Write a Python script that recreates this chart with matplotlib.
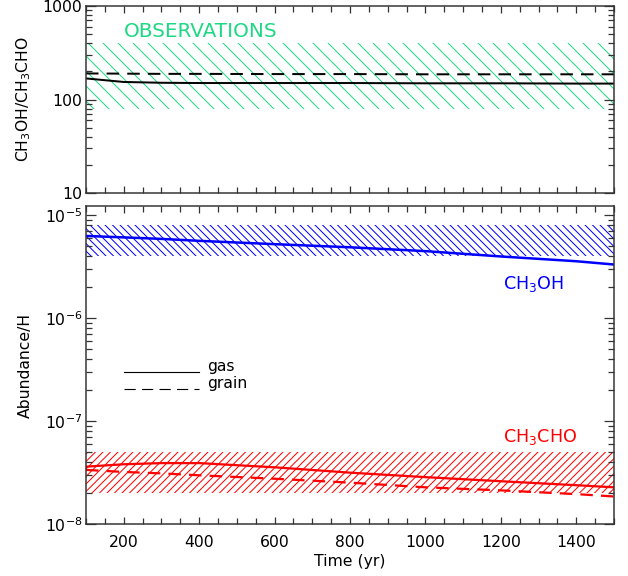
import matplotlib
matplotlib.use("Agg")
import matplotlib.pyplot as plt
from matplotlib.ticker import FixedLocator, FixedFormatter, MultipleLocator, LogLocator, NullFormatter
import numpy as np

plt.rcParams['font.family'] = 'DejaVu Sans'
plt.rcParams['mathtext.fontset'] = 'dejavusans'
plt.rcParams['hatch.linewidth'] = 0.8
plt.rcParams['lines.scale_dashes'] = False

# model time grid (yr)
time = [100, 200, 300, 400, 600, 800, 1000, 1200, 1400, 1500]

# CH3OH / CH3CHO ratio
ratio_gas = [168, 154, 151, 150, 150, 150, 149, 149, 148, 148]
ratio_grain = [190, 189, 188, 188, 187, 187, 186, 186, 186, 186]

# abundances relative to H
ch3oh_gas = [6.25e-6, 6.05e-6, 5.85e-6, 5.6e-6, 5.2e-6, 4.85e-6, 4.45e-6, 3.95e-6, 3.55e-6, 3.3e-6]
ch3cho_gas = [3.6e-8, 3.8e-8, 3.9e-8, 3.9e-8, 3.55e-8, 3.15e-8, 2.85e-8, 2.6e-8, 2.38e-8, 2.27e-8]
ch3cho_grain = [3.35e-8, 3.2e-8, 3.1e-8, 2.97e-8, 2.75e-8, 2.52e-8, 2.27e-8, 2.12e-8, 1.95e-8, 1.85e-8]

# observed ranges
obs_ratio = (80, 400)
obs_ch3oh = (4e-6, 8e-6)
obs_ch3cho = (2e-8, 5e-8)

green = '#1fd884'
blue = '#0000ff'
red = '#ff0000'
axcol = '#333333'
fs = 12.5
dash = (0, (10, 6.5))

fig = plt.figure(figsize=(628 / 90, 576 / 90), dpi=90)
ax1 = fig.add_axes([86 / 628, 1 - 193 / 576, 528 / 628, 187 / 576])
ax2 = fig.add_axes([86 / 628, 1 - 524 / 576, 528 / 628, 318 / 576])

span = [time[0], time[-1]]

# top panel: ratio
ax1.fill_between(span, obs_ratio[0], obs_ratio[1], facecolor='none',
                 edgecolor=green, hatch='\\\\', linewidth=0)
ax1.plot(time, ratio_gas, color='black', lw=1.6)
ax1.plot(time, ratio_grain, color='black', lw=1.6, linestyle=dash)
ax1.text(0.072, 0.865, 'OBSERVATIONS', color=green, fontsize=16,
         transform=ax1.transAxes, va='center', ha='left')
ax1.set_yscale('log')
ax1.set_ylim(10, 1000)
ax1.yaxis.set_major_locator(FixedLocator([10, 100, 1000]))
ax1.yaxis.set_major_formatter(FixedFormatter(['10', '100', '1000']))
ax1.yaxis.set_minor_locator(LogLocator(base=10, subs=np.arange(2, 10)))
ax1.yaxis.set_minor_formatter(NullFormatter())
ax1.set_ylabel('CH$_3$OH/CH$_3$CHO', fontsize=fs)
ax1.tick_params(axis='x', labelbottom=False)

# bottom panel: abundances
ax2.fill_between(span, obs_ch3oh[0], obs_ch3oh[1], facecolor='none',
                 edgecolor=blue, hatch='\\\\\\\\', linewidth=0)
ax2.fill_between(span, obs_ch3cho[0], obs_ch3cho[1], facecolor='none',
                 edgecolor=red, hatch='////', linewidth=0)
ax2.plot(time, ch3oh_gas, color=blue, lw=2.0)
ax2.plot(time, ch3cho_gas, color=red, lw=1.8)
ax2.plot(time, ch3cho_grain, color=red, lw=1.8, linestyle=dash)
ax2.text(0.79, 0.755, 'CH$_3$OH', color=blue, fontsize=14,
         transform=ax2.transAxes, va='center', ha='left')
ax2.text(0.79, 0.275, 'CH$_3$CHO', color=red, fontsize=14,
         transform=ax2.transAxes, va='center', ha='left')

# line style key
ax2.plot([0.072, 0.214], [0.478, 0.478], color='black', lw=0.9, transform=ax2.transAxes)
ax2.plot([0.072, 0.214], [0.425, 0.425], color='black', lw=0.9,
         linestyle=(0, (9, 5)), transform=ax2.transAxes)
ax2.text(0.229, 0.48, 'gas', fontsize=fs, transform=ax2.transAxes, va='baseline')
ax2.text(0.229, 0.427, 'grain', fontsize=fs, transform=ax2.transAxes, va='baseline')

ax2.set_yscale('log')
ax2.set_ylim(1e-8, 1.22e-5)
ax2.yaxis.set_major_locator(LogLocator(base=10, numticks=10))
ax2.yaxis.set_minor_locator(LogLocator(base=10, subs=np.arange(2, 10), numticks=20))
ax2.yaxis.set_minor_formatter(NullFormatter())
ax2.set_ylabel('Abundance/H', fontsize=fs)
ax2.set_xlabel('Time (yr)', fontsize=fs, labelpad=3)

for ax in (ax1, ax2):
    ax.set_xlim(100, 1500)
    ax.xaxis.set_major_locator(MultipleLocator(200))
    ax.xaxis.set_minor_locator(MultipleLocator(50))
    ax.tick_params(which='both', direction='in', top=True, right=True,
                   color=axcol, labelsize=fs, width=1.0)
    ax.tick_params(axis='x', which='major', length=5.5, pad=9)
    ax.tick_params(axis='x', which='minor', length=4.5)
    ax.tick_params(axis='y', which='major', length=8, pad=3)
    ax.tick_params(axis='y', which='minor', length=4.5)
    for s in ax.spines.values():
        s.set_color(axcol)
        s.set_linewidth(1.2)
    ax.yaxis.set_label_coords(-0.1, 0.5)

fig.savefig('out.png', dpi=90)
